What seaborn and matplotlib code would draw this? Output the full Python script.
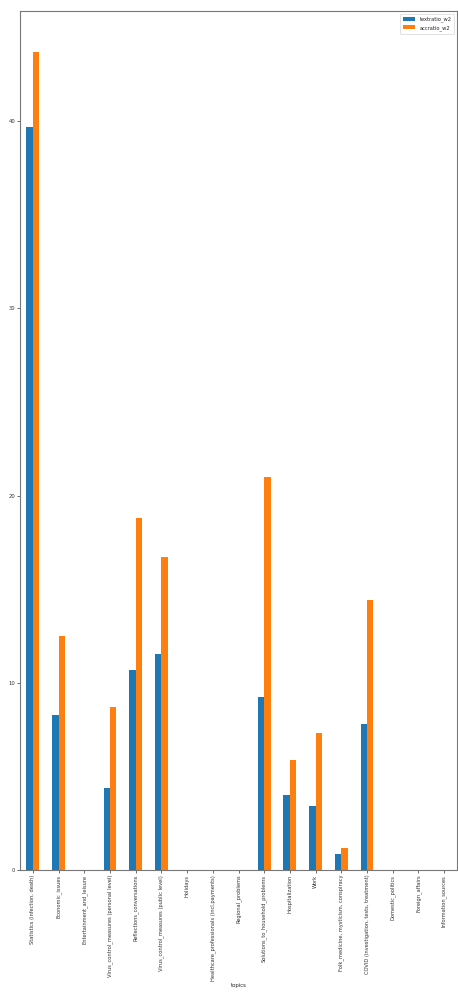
import matplotlib
matplotlib.use("Agg")
import matplotlib.pyplot as plt
import seaborn as sns
import pandas as pd

topics = [
    "Statistics (infection, death)",
    "Economic_issues",
    "Entertainment_and_leisure",
    "Virus_control_measures (personal level)",
    "Reflections_conversations",
    "Virus_control_measures (public level)",
    "Holidays",
    "Healthcare_professionals (incl.payments)",
    "Regional_problems",
    "Solutions_to_household_problems",
    "Hospitalization",
    "Work",
    "Folk_medicine, mysticism, conspiracy",
    "COVID (investigation, tests, treatment)",
    "Domestic_politics",
    "Foreign_affairs",
    "Information_sources",
]
textratio_w2 = [39.7, 8.3, 0.0, 4.4, 10.7, 11.55, 0.0, 0.0, 0.0, 9.25, 4.0, 3.4, 0.85, 7.8, 0.0, 0.0, 0.0]
accratio_w2 = [43.7, 12.5, 0.0, 8.7, 18.8, 16.7, 0.0, 0.0, 0.0, 21.0, 5.9, 7.3, 1.2, 14.4, 0.0, 0.0, 0.0]

df = pd.DataFrame({"topics": topics, "textratio_w2": textratio_w2, "accratio_w2": accratio_w2})
long = df.melt(id_vars="topics", var_name="series", value_name="ratio")

sns.set_style("white")
plt.rcParams["font.family"] = ["DejaVu Sans"]

fig = plt.figure(figsize=(4.58, 9.93), dpi=100)
ax = fig.add_axes([20 / 458, 1 - 870 / 993, 437 / 458, 859 / 993])

sns.barplot(data=long, x="topics", y="ratio", hue="series", order=topics,
            hue_order=["textratio_w2", "accratio_w2"],
            palette=["#1f77b4", "#ff7f0e"], width=0.5, saturation=1,
            linewidth=0, ax=ax)

ax.set_xlim(-0.5, len(topics) - 0.5)
ax.set_ylim(0, max(accratio_w2) * 1.05)
ax.set_yticks([0, 10, 20, 30, 40])
ax.tick_params(axis="both", length=2, width=0.5, direction="out",
               left=True, bottom=True, pad=1.5, colors="#333333")
ax.tick_params(axis="y", labelsize=3.8)
ax.tick_params(axis="x", labelsize=3.7, labelrotation=90)
ax.set_xlabel("topics", fontsize=3.9, labelpad=2)
ax.set_ylabel("")
for s in ax.spines.values():
    s.set_visible(True)
    s.set_color("#777777")
    s.set_linewidth(0.8)

leg = ax.legend(title=None, loc="upper right", fontsize=3.7, frameon=True,
                handlelength=2.4, borderpad=0.6, labelspacing=0.5)
leg.get_frame().set_linewidth(0.5)

fig.savefig("out.png", dpi=100)
